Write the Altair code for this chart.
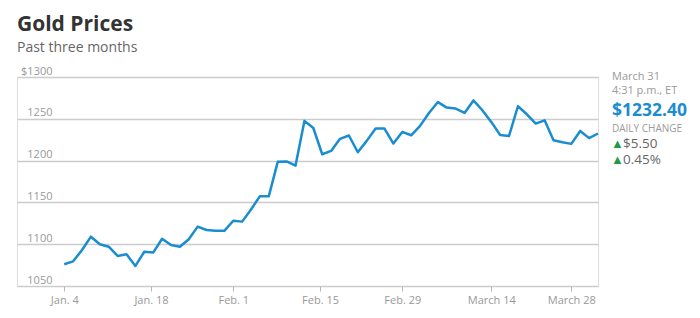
import altair as alt
import pandas as pd

# ---- data ----
trading_dates = [
    "2016-01-04", "2016-01-05", "2016-01-06", "2016-01-07", "2016-01-08",
    "2016-01-11", "2016-01-12", "2016-01-13", "2016-01-14", "2016-01-15",
    "2016-01-19", "2016-01-20", "2016-01-21", "2016-01-22",
    "2016-01-25", "2016-01-26", "2016-01-27", "2016-01-28", "2016-01-29",
    "2016-02-01", "2016-02-02", "2016-02-03", "2016-02-04", "2016-02-05",
    "2016-02-08", "2016-02-09", "2016-02-10", "2016-02-11", "2016-02-12",
    "2016-02-16", "2016-02-17", "2016-02-18", "2016-02-19",
    "2016-02-22", "2016-02-23", "2016-02-24", "2016-02-25", "2016-02-26",
    "2016-02-29", "2016-03-01", "2016-03-02", "2016-03-03", "2016-03-04",
    "2016-03-07", "2016-03-08", "2016-03-09", "2016-03-10", "2016-03-11",
    "2016-03-14", "2016-03-15", "2016-03-16", "2016-03-17", "2016-03-18",
    "2016-03-21", "2016-03-22", "2016-03-23", "2016-03-24",
    "2016-03-28", "2016-03-29", "2016-03-30", "2016-03-31",
]
prices = [
    1076.0, 1079.5, 1093.0, 1109.0, 1100.0, 1097.0, 1086.0, 1088.0, 1074.0, 1091.0,
    1090.0, 1106.5, 1099.0, 1097.0, 1106.0, 1121.0, 1117.0, 1116.0, 1116.0, 1128.0,
    1127.0, 1141.5, 1157.5, 1157.5, 1198.5, 1199.0, 1194.0, 1247.5, 1239.0, 1207.6,
    1211.6, 1226.0, 1230.0, 1210.0, 1223.6, 1238.3, 1238.3, 1220.4, 1234.3, 1230.3,
    1241.5, 1257.0, 1270.0, 1263.4, 1262.2, 1257.0, 1272.0, 1260.2, 1246.3, 1230.7,
    1229.5, 1265.0, 1255.4, 1244.3, 1248.2, 1224.4, 1222.0, 1220.0, 1235.5, 1226.9,
    1232.4,
]
tick_dates = ["2016-01-04", "2016-01-18", "2016-02-01", "2016-02-15",
              "2016-02-29", "2016-03-14", "2016-03-28"]
tick_labels = ["Jan. 4", "Jan. 18", "Feb. 1", "Feb. 15", "Feb. 29", "March 14", "March 28"]
y_ticks = [1050, 1100, 1150, 1200, 1250, 1300]

title_text = "Gold Prices"
subtitle_text = "Past three months"
stamp_date = "March 31"
stamp_time = "4:31 p.m., ET"

# ---- derived ----
df = pd.DataFrame({"date": trading_dates, "price": prices})
df["idx"] = range(len(df))


def tick_pos(d):
    if d in trading_dates:
        return float(trading_dates.index(d))
    nxt = min(i for i, t in enumerate(trading_dates) if t > d)
    return nxt - 0.25


tick_values = [tick_pos(d) for d in tick_dates]
label_expr = "[" + ",".join("'%s'" % t for t in tick_labels) + "][indexof([" + \
    ",".join(repr(v) for v in tick_values) + "], datum.value)]"

last = prices[-1]
chg = last - prices[-2]
pct = chg / prices[-2] * 100

FONT = "Open Sans"
BLUE = "#1a8dd0"
GREEN = "#1e9a4a"

W, H = 581, 209

line = alt.Chart(df).mark_line(color=BLUE, strokeWidth=2.5, strokeJoin="round").encode(
    x=alt.X("idx:Q",
            scale=alt.Scale(domain=[-5.31, 60], nice=False, zero=False),
            axis=alt.Axis(values=tick_values, labelExpr=label_expr, title=None,
                          grid=False, domain=False, ticks=True, tickSize=5,
                          tickColor="#b5b5b5", tickWidth=1, labelFlush=False,
                          labelPadding=3, labelFontSize=11, labelColor="#999999",
                          labelFont=FONT)),
    y=alt.Y("price:Q",
            scale=alt.Scale(domain=[1050, 1300], nice=False, zero=False),
            axis=alt.Axis(values=y_ticks, title=None, domain=False, ticks=False,
                          grid=True, gridColor="#cccccc", gridWidth=1.5,
                          format="d",
                          labelAlign="right", labelBaseline="alphabetic",
                          labelPadding=-35, labelOffset=-3,
                          labelExpr="datum.value == 1300 ? '$' + datum.label : datum.label",
                          labelFontSize=11, labelColor="#999999", labelFont=FONT)),
)

one = pd.DataFrame({"k": [0]})


def txt(text, x, y, size, color, weight="normal"):
    return alt.Chart(one).mark_text(
        text=text, align="left", baseline="middle", font=FONT,
        fontSize=size, fontWeight=weight, color=color,
    ).encode(x=alt.value(x), y=alt.value(y))


ax = 595
layers = [
    line,
    txt(stamp_date, ax, 0, 11, "#9a9a9a"),
    txt(stamp_time, ax, 14, 11, "#9a9a9a"),
    txt("$%.2f" % last, ax, 33.5, 17.5, BLUE, "bold"),
    txt("DAILY CHANGE", ax, 51.5, 10, "#9a9a9a"),
    txt("▲", ax - 1, 66.5, 13, GREEN),
    txt("$%.2f" % chg, ax + 11, 66.5, 13.5, "#666666"),
    txt("▲", ax - 1, 83, 13, GREEN),
    txt("%.2f%%" % pct, ax + 11, 83, 13.5, "#666666"),
]

chart = alt.layer(*layers).properties(
    width=W, height=H,
    title=alt.TitleParams(
        text=title_text, subtitle=subtitle_text, anchor="start", frame="group",
        font=FONT, fontSize=21, fontWeight="bold", color="#333333",
        subtitleFont=FONT, subtitleFontSize=14, subtitleColor="#666666",
        subtitlePadding=6, offset=10,
    ),
    autosize=alt.AutoSizeParams(type="none"),
    padding={"left": 17, "top": 77, "right": 102, "bottom": 32},
).configure_view(stroke=None).configure(font=FONT, background="white")

chart.save("out.html", embed_options={"renderer": "svg", "actions": False})
